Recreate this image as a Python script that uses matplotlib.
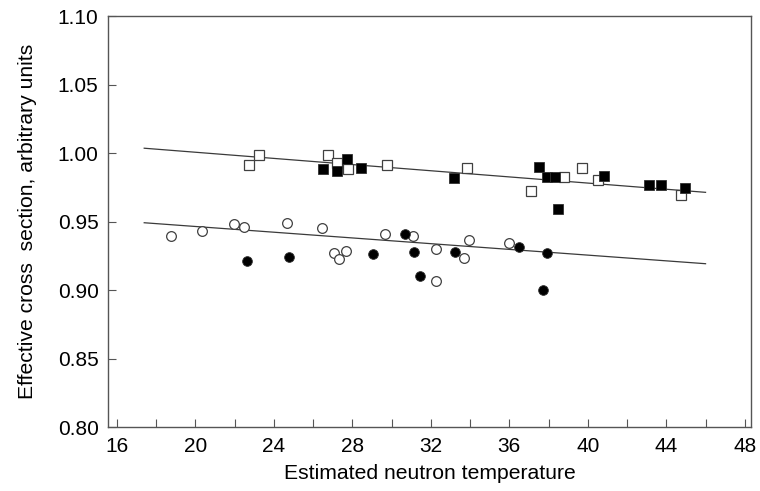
import numpy as np
import matplotlib
matplotlib.use("Agg")
import matplotlib.pyplot as plt
from matplotlib.ticker import MultipleLocator

plt.rcParams['font.family'] = ['Liberation Sans', 'DejaVu Sans']

# open squares (upper group)
sq_open_x = [22.75, 23.25, 26.75, 27.2, 27.77, 29.79, 33.83, 37.12, 38.8, 39.72, 40.52, 44.73]
sq_open_y = [0.991, 0.9988, 0.9983, 0.9925, 0.9885, 0.9915, 0.9891, 0.972, 0.9823, 0.9888, 0.980, 0.9691]

# filled squares (upper group)
sq_fill_x = [26.52, 27.21, 27.75, 28.45, 33.18, 37.5, 37.9, 38.33, 38.5, 40.84, 43.13, 43.73, 44.94]
sq_fill_y = [0.9881, 0.9866, 0.9956, 0.9891, 0.9818, 0.9898, 0.9825, 0.9825, 0.9591, 0.9834, 0.9766, 0.9766, 0.9742]

# open circles (lower group)
ci_open_x = [18.75, 20.33, 21.98, 22.47, 24.66, 26.44, 27.09, 27.34, 27.68, 29.65, 31.11,
             32.25, 32.28, 33.69, 33.96, 35.98]
ci_open_y = [0.9396, 0.9431, 0.9484, 0.9462, 0.9489, 0.9455, 0.9268, 0.9229, 0.9285, 0.9411, 0.9396,
             0.9297, 0.9066, 0.9234, 0.9367, 0.9341]

# filled circles (lower group)
ci_fill_x = [22.64, 24.76, 29.06, 30.69, 31.15, 31.47, 33.25, 36.49, 37.7, 37.9]
ci_fill_y = [0.9214, 0.9239, 0.926, 0.9411, 0.928, 0.9102, 0.9275, 0.9314, 0.9002, 0.9268]

# fitted lines (end points)
fit_x = [17.4, 46.0]
upper_fit = [1.0035, 0.9713]
lower_fit = [0.9491, 0.9192]

fig = plt.figure(figsize=(7.6, 4.91), dpi=100)
ax = fig.add_axes([0.1425, 0.1303, 0.988 - 0.1425, 0.9674 - 0.1303])

line_col = '#3a3a3a'
ax.plot(fit_x, upper_fit, color=line_col, lw=0.9, zorder=2)
ax.plot(fit_x, lower_fit, color=line_col, lw=0.9, zorder=2)

edge = '#404040'
ax.plot(sq_open_x, sq_open_y, ls='none', marker='s', ms=7.4, mfc='white', mec=edge, mew=0.9, zorder=3)
ax.plot(sq_fill_x, sq_fill_y, ls='none', marker='s', ms=7.4, mfc='black', mec='#303030', mew=0.6, zorder=4)
ax.plot(ci_open_x, ci_open_y, ls='none', marker='o', ms=7.0, mfc='white', mec=edge, mew=0.9, zorder=3)
ax.plot(ci_fill_x, ci_fill_y, ls='none', marker='o', ms=7.0, mfc='black', mec='#303030', mew=0.6, zorder=4)

ax.set_xlim(15.57, 48.31)
ax.set_ylim(0.80, 1.10)
ax.xaxis.set_major_locator(MultipleLocator(4))
ax.xaxis.set_minor_locator(MultipleLocator(2))
ax.yaxis.set_major_locator(MultipleLocator(0.05))
ax.yaxis.set_major_formatter(plt.FormatStrFormatter('%.2f'))

ax.tick_params(axis='both', which='both', direction='in', length=6, width=0.8,
               color='#555555', top=False, right=False)
ax.tick_params(axis='both', which='major', labelsize=15, pad=7)
for s in ax.spines.values():
    s.set_color('#555555')
    s.set_linewidth(1.0)

ax.set_xlabel('Estimated neutron temperature', fontsize=15.2, labelpad=6)
ax.set_ylabel('Effective cross  section, arbitrary units', fontsize=15.2, labelpad=15)

fig.savefig('out.png', dpi=100)
